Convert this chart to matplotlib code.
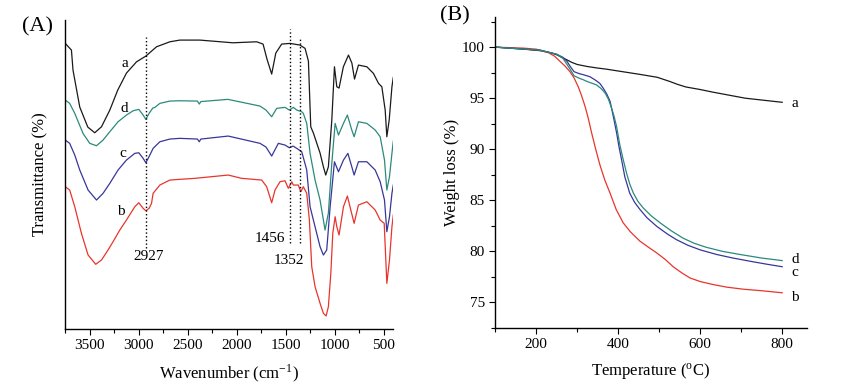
import numpy as np
import matplotlib
matplotlib.use("Agg")
import matplotlib.pyplot as plt
from matplotlib.ticker import MultipleLocator

plt.rcParams['font.family'] = 'Liberation Serif'
plt.rcParams['mathtext.fontset'] = 'stix'

# (A) FTIR, transmittance in arbitrary units (stacked)
wn_a = [3750, 3687, 3671, 3602, 3520, 3449, 3380, 3295, 3214, 3125, 3022, 2927, 2818, 2682, 2580, 2375,
        2038, 1795, 1730, 1690, 1642, 1600, 1540, 1455, 1353, 1301, 1267, 1243, 1216, 1148, 1114, 1090,
        1063, 1028, 1001, 977, 954, 910, 858, 823, 796, 756, 670, 603, 551, 517, 483, 466, 442, 414, 400]
tr_a = [285.7, 279, 259, 222, 202, 196.3, 202.3, 219, 239, 256, 267.3, 273, 282.3, 287.3, 289, 289,
        286.3, 287.3, 285, 270, 255, 276, 285, 285.7, 284, 280.7, 268, 202.3, 196, 176, 162.3, 154,
        162.3, 209, 262.3, 242.3, 241, 262.3, 274, 266, 250, 264, 262.3, 255.7, 245.7, 242.3, 219, 192.3, 209, 242.3, 251.7]

wn_d = [3750, 3705, 3653, 3569, 3500, 3431, 3364, 3295, 3211, 3125, 3057, 2999, 2955, 2927, 2894, 2856,
        2835, 2784, 2682, 2580, 2400, 2382, 2365, 2089, 1761, 1700, 1642, 1591, 1506, 1462, 1421, 1386,
        1335, 1319, 1284, 1250, 1199, 1148, 1114, 1097, 1063, 1028, 994, 960, 909, 869, 824, 800, 756,
        670, 585, 534, 490, 466, 439, 414, 400]
tr_d = [229, 225.7, 215.7, 195.7, 185.7, 183.3, 189, 197.3, 207.3, 214, 218.3, 219.7, 214, 209.7, 215.7, 221,
        221.7, 225.7, 228, 228.3, 228, 225, 227.5, 229.7, 223, 219, 212.3, 220.7, 221.7, 219, 221.7, 219,
        217.3, 215.7, 205.7, 175.7, 149, 129, 109, 99, 116, 165.7, 205.7, 194, 205.7, 214, 199, 192.3, 207.3,
        205.7, 199, 192.3, 169, 139, 152.3, 175.7, 188]

wn_c = [3750, 3705, 3653, 3602, 3517, 3431, 3364, 3295, 3211, 3125, 3040, 2999, 2955, 2927, 2886, 2853,
        2784, 2682, 2580, 2400, 2382, 2365, 2086, 1761, 1700, 1642, 1574, 1506, 1462, 1424, 1386, 1335,
        1284, 1250, 1199, 1148, 1114, 1080, 1045, 1001, 960, 909, 864, 824, 800, 756, 670, 585, 534, 490,
        466, 439, 414, 400]
tr_c = [189, 185.7, 174, 159, 139, 129, 135.7, 145.7, 159, 169, 175.7, 176.3, 170.7, 166.3, 174, 180.7,
        187.3, 190, 190.7, 190, 187.3, 190, 193, 185.7, 182, 173, 185.7, 184, 181.3, 183, 180.7, 177.3,
        159, 122.3, 102.3, 82.3, 74, 79, 122.3, 167.3, 157.3, 169, 175.7, 162.3, 154, 167.3, 167.3, 159, 147.3, 129,
        97.3, 112.3, 135.7, 144]

wn_b = [3750, 3705, 3653, 3585, 3517, 3439, 3380, 3313, 3262, 3193, 3125, 3040, 2999, 2955, 2927, 2894,
        2869, 2853, 2784, 2682, 2580, 2426, 2086, 1949, 1744, 1693, 1642, 1608, 1557, 1506, 1472, 1437,
        1421, 1370, 1345, 1319, 1284, 1257, 1233, 1199, 1148, 1114, 1086, 1063, 1038, 1018, 994, 977, 954,
        909, 869, 834, 800, 756, 670, 585, 534, 493, 466, 439, 414, 400]
tr_b = [142.3, 139, 122.3, 95.7, 74, 64.7, 69, 79, 87.3, 99, 109, 122.3, 126.3, 120.7, 118.3, 120.7,
        125.7, 135.7, 144, 149, 149.7, 150.7, 154, 150.7, 149, 142.3, 126.3, 139, 147.3, 148.3, 140.7, 147.3,
        144, 144, 137.3, 142.3, 135.7, 109, 62.3, 42.3, 25.7, 15.7, 13, 22.3, 55.7, 95.7, 112.3, 102.3, 94,
        122.3, 133, 119, 105.7, 124, 127.3, 119, 109, 105.7, 45.7, 69, 102.3, 114]

peaks = [2927, 1456, 1352]
peak_labels = ['2927', '1456', '1352']

# (B) TGA
temp_a = [100, 170, 210, 235, 250, 262, 275, 287, 300, 325, 350, 370, 410, 450, 495, 525, 545, 565,
          600, 630, 670, 710, 755, 800]
w_a = [100.0, 99.8, 99.65, 99.45, 99.25, 99.0, 98.75, 98.5, 98.3, 98.1, 97.95, 97.85, 97.6, 97.35,
       97.05, 96.65, 96.35, 96.1, 95.85, 95.6, 95.3, 95.0, 94.8, 94.6]
temp_b = [100, 170, 200, 230, 245, 258, 270, 282, 292, 302, 310, 319, 327, 335, 345, 355, 367, 380,
          395, 412, 430, 453, 474, 494, 515, 534, 555, 575, 600, 632, 665, 705, 750, 800]
w_b = [100.0, 99.9, 99.8, 99.45, 99.1, 98.6, 98.15, 97.6, 97.0, 96.15, 95.3, 94.2, 93.0, 91.6, 90.0,
       88.5, 87.0, 85.7, 84.1, 82.8, 81.9, 81.0, 80.4, 79.85, 79.2, 78.5, 77.9, 77.4, 77.05, 76.75, 76.5,
       76.3, 76.15, 75.95]
temp_c = [100, 210, 250, 265, 275, 283, 292, 305, 315, 331, 345, 355, 363, 372, 380, 388, 396, 402,
          408, 416, 428, 440, 453, 470, 494, 520, 542, 570, 600, 640, 680, 720, 762, 800]
w_c = [100.0, 99.7, 99.3, 99.0, 98.6, 98.1, 97.6, 97.4, 97.3, 97.1, 96.75, 96.45, 96.0, 95.4, 94.7,
       93.2, 91.6, 90.2, 89.0, 87.3, 85.7, 84.8, 84.1, 83.3, 82.45, 81.7, 81.15, 80.6, 80.15, 79.7, 79.35,
       79.05, 78.75, 78.5]
temp_d = [100, 210, 250, 265, 275, 283, 292, 305, 315, 323, 347, 358, 368, 376, 384, 390, 396, 404,
          412, 420, 428, 437, 448, 461, 480, 502, 530, 558, 585, 615, 655, 697, 750, 800]
w_d = [100.0, 99.7, 99.3, 98.9, 98.3, 97.8, 97.2, 96.95, 96.8, 96.65, 96.3, 95.95, 95.5, 94.9, 94.0,
       93.2, 92.2, 90.4, 89.0, 87.7, 86.6, 85.7, 84.9, 84.25, 83.5, 82.8, 82.0, 81.3, 80.8, 80.4, 80.0,
       79.7, 79.35, 79.1]

col_a = '#1a1a1a'
col_b = '#e8352c'
col_c = '#37379a'
col_d = '#2a8a7c'

fig = plt.figure(figsize=(8.61, 3.91), dpi=100)
ax1 = fig.add_axes([0.0758, 0.1586, 0.381, 0.790])
ax2 = fig.add_axes([0.5753, 0.1611, 0.3617, 0.7954])

lw = 0.9
ax1.plot(wn_a, tr_a, color=col_a, lw=lw)
ax1.plot(wn_d, tr_d, color=col_d, lw=lw)
ax1.plot(wn_c, tr_c, color=col_c, lw=lw)
ax1.plot(wn_b, tr_b, color=col_b, lw=lw)

ax1.vlines(peaks[0], 80.7, 291.7, colors='k', linestyles=':', lw=1)
ax1.vlines(peaks[1], 86.3, 299.7, colors='k', linestyles=':', lw=1)
ax1.vlines(peaks[2], 86.3, 291.7, colors='k', linestyles=':', lw=1)
ax1.text(2897, 72.3, peak_labels[0], ha='center', va='center', fontsize=11)
ax1.text(1659, 90.7, peak_labels[1], ha='center', va='center', fontsize=11)
ax1.text(1462, 69, peak_labels[2], ha='center', va='center', fontsize=11)

ax1.text(3142, 266, 'a', ha='center', va='center', fontsize=11)
ax1.text(3152, 221, 'd', ha='center', va='center', fontsize=11)
ax1.text(3166, 176, 'c', ha='center', va='center', fontsize=11)
ax1.text(3186, 118, 'b', ha='center', va='center', fontsize=11)

ax1.set_xlim(3750, 400)
ax1.set_ylim(0, 309)
ax1.xaxis.set_major_locator(MultipleLocator(500))
ax1.xaxis.set_minor_locator(MultipleLocator(250))
ax1.set_yticks([])
ax1.set_xlabel(r'Wavenumber (cm$^{\mathregular{-1}}$)', fontsize=12, labelpad=7)
ax1.set_ylabel('Transmittance (%)', fontsize=12)
ax1.yaxis.set_label_coords(-0.05, 0.5)

ax2.plot(temp_a, w_a, color=col_a, lw=lw)
ax2.plot(temp_b, w_b, color=col_b, lw=lw)
ax2.plot(temp_c, w_c, color=col_c, lw=lw)
ax2.plot(temp_d, w_d, color=col_d, lw=lw)
ax2.text(832, 94.45, 'a', ha='center', va='center', fontsize=11)
ax2.text(832, 79.2, 'd', ha='center', va='center', fontsize=11)
ax2.text(832, 77.9, 'c', ha='center', va='center', fontsize=11)
ax2.text(832, 75.5, 'b', ha='center', va='center', fontsize=11)

ax2.set_xlim(100, 860)
ax2.set_ylim(72.5, 102.95)
ax2.xaxis.set_major_locator(MultipleLocator(200))
ax2.xaxis.set_minor_locator(MultipleLocator(100))
ax2.yaxis.set_major_locator(MultipleLocator(5))
ax2.yaxis.set_minor_locator(MultipleLocator(2.5))
ax2.set_xlabel(r'Temperature ($^{\mathregular{o}}$C)', fontsize=12, labelpad=7)
ax2.set_ylabel('Weight loss (%)', fontsize=12)
ax2.yaxis.set_label_coords(-0.113, 0.5)

for ax in (ax1, ax2):
    ax.spines['top'].set_visible(False)
    ax.spines['right'].set_visible(False)
    ax.spines['left'].set_linewidth(1.0)
    ax.spines['bottom'].set_linewidth(1.0)
    ax.tick_params(which='major', direction='out', length=4, width=0.8, labelsize=11)
    ax.tick_params(which='minor', direction='out', length=3, width=0.8)

fig.text(0.044, 0.931, '(A)', ha='center', va='center', fontsize=16)
fig.text(0.528, 0.959, '(B)', ha='center', va='center', fontsize=16)

fig.savefig('out.png', dpi=100)
